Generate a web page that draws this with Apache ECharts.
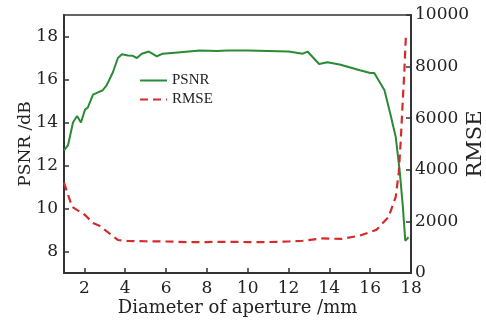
<!DOCTYPE html>
<html>
<head>
<meta charset="utf-8">
<script src="https://cdn.jsdelivr.net/npm/echarts@6/dist/echarts.min.js"></script>
<style>
  html, body { margin: 0; padding: 0; background: #fff; }
  #chart { width: 486px; height: 325px; }
</style>
</head>
<body>
<div id="chart"></div>
<script>
// PSNR curve (aperture diameter mm, dB)
const psnrX = [1.0, 1.2, 1.44, 1.64, 1.83, 2.03, 2.17, 2.42, 2.66, 2.9, 3.1, 3.4, 3.64, 3.84, 4.13, 4.37, 4.57, 4.81, 5.16, 5.55, 5.84, 6.57, 7.65, 8.5, 9.0, 10.0, 11.0, 12.0, 12.7, 12.93, 13.5, 13.9, 14.5, 15.5, 16.0, 16.2, 16.7, 17.0, 17.25, 17.45, 17.6, 17.72, 17.88];
const psnrY = [12.7, 12.95, 14.0, 14.3, 14.0, 14.6, 14.7, 15.3, 15.4, 15.5, 15.75, 16.35, 17.0, 17.17, 17.12, 17.1, 17.0, 17.2, 17.3, 17.08, 17.2, 17.26, 17.35, 17.33, 17.35, 17.35, 17.33, 17.3, 17.2, 17.3, 16.72, 16.8, 16.7, 16.43, 16.3, 16.3, 15.5, 14.35, 13.34, 11.7, 10.1, 8.5, 8.67];

// RMSE curve (aperture diameter mm, RMSE)
const rmseX = [1.0, 1.4, 2.03, 2.42, 2.76, 3.64, 4.13, 5.0, 6.0, 7.0, 8.0, 9.0, 10.0, 11.0, 12.0, 12.7, 13.6, 14.6, 15.5, 16.3, 16.9, 17.25, 17.4, 17.5, 17.58, 17.67, 17.75];
const rmseY = [3500, 2560, 2250, 1940, 1820, 1280, 1240, 1230, 1220, 1200, 1200, 1210, 1200, 1200, 1220, 1250, 1340, 1320, 1450, 1670, 2170, 2950, 3880, 5150, 6430, 7750, 9200];

const xTicks = [2, 4, 6, 8, 10, 12, 14, 16, 18];
const psnrTicks = [8, 10, 12, 14, 16, 18];

const font = 'DejaVu Serif';
const axisColor = '#333';

const chart = echarts.init(document.getElementById('chart'));

chart.setOption({
  animation: false,
  backgroundColor: '#fff',
  grid: {
    left: 64, right: 75, top: 15, bottom: 52,
    outerBoundsMode: 'none',
    show: true, borderColor: axisColor, borderWidth: 1.5
  },
  legend: {
    orient: 'vertical',
    left: 139, top: 73,
    padding: 0,
    itemWidth: 27, itemHeight: 14, itemGap: 4,
    itemStyle: { opacity: 0 },
    textStyle: { fontFamily: 'Liberation Serif', fontSize: 15, color: '#222' },
    data: ['PSNR', 'RMSE']
  },
  xAxis: {
    type: 'value',
    min: 1, max: 18,
    name: 'Diameter of aperture /mm',
    nameLocation: 'middle',
    nameGap: 26,
    nameMoveOverlap: false,
    nameTextStyle: { fontFamily: font, fontSize: 18, color: '#222' },
    axisLine: { lineStyle: { color: axisColor, width: 2 } },
    axisTick: { inside: true, length: 5, customValues: xTicks, lineStyle: { color: axisColor, width: 1.5 } },
    axisLabel: { customValues: xTicks, margin: 7, fontFamily: font, fontSize: 17, color: '#222' },
    splitLine: { show: false }
  },
  yAxis: [
    {
      type: 'value',
      min: 7, max: 19,
      name: 'PSNR /dB',
      nameLocation: 'middle',
      nameGap: 30,
      nameMoveOverlap: false,
      nameTextStyle: { fontFamily: font, fontSize: 17, color: '#222' },
      axisLine: { show: true, lineStyle: { color: axisColor, width: 2 } },
      axisTick: { inside: true, length: 5, customValues: psnrTicks, lineStyle: { color: axisColor, width: 1.5 } },
      axisLabel: { customValues: psnrTicks, margin: 6, fontFamily: font, fontSize: 17, color: '#222' },
      splitLine: { show: false }
    },
    {
      type: 'value',
      position: 'right',
      min: 0, max: 10000, interval: 2000,
      name: 'RMSE',
      nameLocation: 'middle',
      nameGap: 54,
      nameMoveOverlap: false,
      nameTextStyle: { fontFamily: font, fontSize: 21, color: '#222' },
      axisLine: { show: true, lineStyle: { color: axisColor, width: 2 } },
      axisTick: { inside: true, length: 5, lineStyle: { color: axisColor, width: 1.5 } },
      axisLabel: { margin: 4, fontFamily: font, fontSize: 17, color: '#222', formatter: (v) => String(v) },
      splitLine: { show: false }
    }
  ],
  series: [
    {
      name: 'PSNR',
      type: 'line',
      yAxisIndex: 0,
      symbol: 'none',
      data: psnrX.map((x, i) => [x, psnrY[i]]),
      lineStyle: { color: '#2a8a35', width: 2 },
      itemStyle: { color: '#2a8a35' }
    },
    {
      name: 'RMSE',
      type: 'line',
      yAxisIndex: 1,
      symbol: 'none',
      data: rmseX.map((x, i) => [x, rmseY[i]]),
      lineStyle: { color: '#d42b2b', width: 2.2, type: [8, 5] },
      itemStyle: { color: '#d42b2b' }
    }
  ]
});
</script>
</body>
</html>
